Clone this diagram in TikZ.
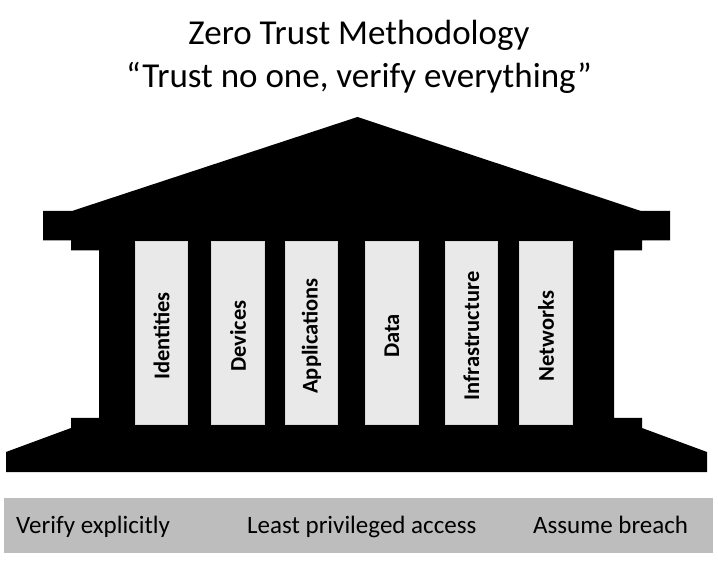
\documentclass[tikz,border=0pt]{standalone}
\usepackage{fontspec}
\setmainfont{Carlito}
\usepackage{xcolor}
\usepackage{tikz}
\usetikzlibrary{positioning}

\definecolor{pillargray}{HTML}{E9E9E9}
\definecolor{bandgray}{HTML}{BDBDBD}

\begin{document}
\begin{tikzpicture}[
        x=1pt,
        y=-1pt,
        title/.style={font=\fontsize{35}{43}\selectfont, align=center, inner sep=0pt},
        pillar/.style={rectangle, draw=white!85!black, line width=0.8pt, fill=pillargray, minimum width=52.5pt, minimum height=182.5pt, inner sep=0pt, outer sep=0pt},
        pillartext/.style={font=\fontsize{22.5}{27}\bfseries\selectfont, rotate=90, inner sep=0pt, xshift=-3pt},
        band/.style={rectangle, fill=bandgray, minimum width=708.5pt, minimum height=55.5pt, inner sep=0pt},
        principle/.style={font=\fontsize{25}{30}\selectfont, inner sep=0pt, anchor=base west}
    ]
        \useasboundingbox (0,0) rectangle (718,561);

        % Title
        \node [title] (title) at (359,56.5) {Zero Trust Methodology\\``Trust no one, verify everything''};

        % Temple
        \fill [black] (357.5,117) -- (641,211) -- (670,211) -- (670,240.5) -- (642,240.5) -- (642,250.5)
            -- (614,250.5) -- (614,418) -- (642,418) -- (642,428) -- (707,452) -- (707,472)
            -- (6,472) -- (6,452) -- (71,428) -- (71,418) -- (99,418) -- (99,250.5)
            -- (71,250.5) -- (71,240.5) -- (43,240.5) -- (43,211) -- (72,211) -- cycle;

        % Pillars
        \node [pillar] (identities) at (161.5,333) {};
        \node [pillar, right=24pt of identities] (devices) {};
        \node [pillar, right=21pt of devices] (applications) {};
        \node [pillar, right=28pt of applications] (data) {};
        \node [pillar, right=27pt of data] (infrastructure) {};
        \node [pillar, right=22pt of infrastructure] (networks) {};

        % Pillar labels
        \node [pillartext] (identitieslabel) at (identities) {Identities};
        \node [pillartext] (deviceslabel) at (devices) {Devices};
        \node [pillartext] (applicationslabel) at (applications) {Applications};
        \node [pillartext] (datalabel) at (data) {Data};
        \node [pillartext] (infrastructurelabel) at (infrastructure) {Infrastructure};
        \node [pillartext] (networkslabel) at (networks) {Networks};

        % Principles
        \node [band] (band) at (358.25,525.25) {};
        \node [principle] (verify) at (16,533) {Verify explicitly};
        \node [principle] (least) at (247,533) {Least privileged access};
        \node [principle] (assume) at (533,533) {Assume breach};
    \end{tikzpicture}
\end{document}
